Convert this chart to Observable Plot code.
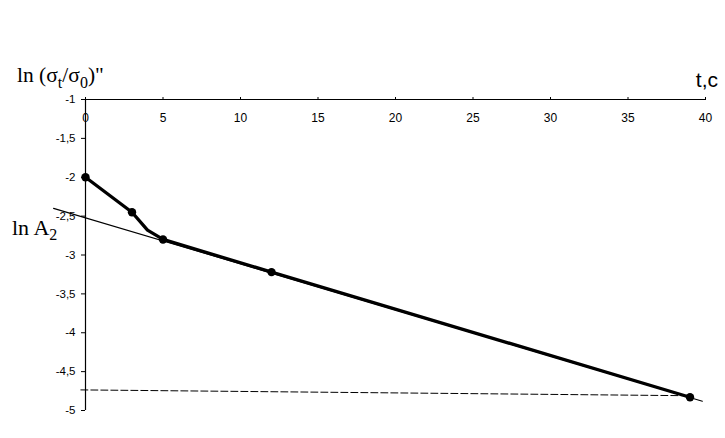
<!DOCTYPE html>
<html>
<head>
<meta charset="utf-8">
<script src="https://cdn.jsdelivr.net/npm/d3@7"></script>
<script src="https://cdn.jsdelivr.net/npm/@observablehq/plot@0.6"></script>
<style>
  html, body { margin: 0; padding: 0; background: #fff; }
</style>
</head>
<body>
<div id="chart"></div>
<script>
// Measured points (markers)
const tPoints = [0, 3, 5, 12, 39];
const lnPoints = [-2, -2.45, -2.8, -3.22, -4.83];
// Thick experimental curve (includes an unmarked vertex near t=4)
const tCurve = [0, 3, 4, 5, 12, 39];
const lnCurve = [-2, -2.45, -2.68, -2.8, -3.22, -4.83];
// Thin fitted straight line
const tFit = [-2.06, 39.8];
const lnFit = [-2.40, -4.88];
// Dashed line
const tBase = [-0.3, 39];
const lnBase = [-4.735, -4.81];
// Ticks
const xTicks = [0, 5, 10, 15, 20, 25, 30, 35, 40];
const yTicks = [-1, -1.5, -2, -2.5, -3, -3.5, -4, -4.5, -5];

const pts = tPoints.map((t, i) => ({t, v: lnPoints[i]}));
const curve = tCurve.map((t, i) => ({t, v: lnCurve[i]}));
const fit = tFit.map((t, i) => ({t, v: lnFit[i]}));
const base = tBase.map((t, i) => ({t, v: lnBase[i]}));

const fmt = d => String(d).replace(".", ",");

const chart = Plot.plot({
  width: 725,
  height: 438,
  marginLeft: 85,
  marginRight: 20,
  marginTop: 99,
  marginBottom: 28,
  style: {fontFamily: "'Liberation Sans', Arial, sans-serif", background: "#fff"},
  x: {domain: [0, 40]},
  y: {domain: [-5, -1]},
  marks: [
    Plot.axisY({ticks: yTicks, tickSize: 4, tickPadding: 6, tickFormat: fmt, fontSize: 11.5, stroke: "#000", color: "#000", label: null}),
    Plot.axisX({anchor: "top", ticks: xTicks, tickSize: 3, tickFormat: () => "", label: null}),
    Plot.text(xTicks, {x: d => d, y: -1, text: fmt, dy: 19, fontSize: 12, fill: "#000", lineAnchor: "middle", textAnchor: "middle", style: "letter-spacing:1px"}),
    Plot.ruleY([-1], {x1: 0, x2: 40, stroke: "#000", strokeWidth: 1.2}),
    Plot.ruleX([0], {y1: -1, y2: -5, stroke: "#000", strokeWidth: 1.2}),
    Plot.line(base, {x: "t", y: "v", stroke: "#000", strokeWidth: 1, strokeDasharray: "7,3"}),
    Plot.line(fit, {x: "t", y: "v", stroke: "#000", strokeWidth: 1.1}),
    Plot.line(curve, {x: "t", y: "v", stroke: "#000", strokeWidth: 3.3, strokeLinejoin: "round"}),
    Plot.dot(pts, {x: "t", y: "v", r: 4.2, fill: "#000", stroke: "none"})
  ]
});

const svg = d3.select(chart);
const serif = "'Liberation Serif', 'Times New Roman', serif";
// Y axis title
const t1 = svg.append("text").attr("x", 17).attr("y", 82).attr("text-anchor", "start")
  .attr("font-family", serif).attr("font-size", 21.5).attr("fill", "#000");
t1.append("tspan").text("ln (σ");
t1.append("tspan").attr("font-size", 16).attr("dy", 6).text("t");
t1.append("tspan").attr("dy", -6).text("/σ");
t1.append("tspan").attr("font-size", 16).attr("dy", 6).text("0");
t1.append("tspan").attr("dy", -6).text(")\"");
// X axis title
svg.append("text").attr("x", 718).attr("y", 87).attr("text-anchor", "end")
  .attr("font-family", "'Liberation Sans', Arial, sans-serif").attr("font-size", 21).attr("fill", "#000")
  .text("t,c");
// ln A2 label
const t3 = svg.append("text").attr("x", 12).attr("y", 235).attr("text-anchor", "start")
  .attr("font-family", serif).attr("font-size", 22).attr("fill", "#000");
t3.append("tspan").text("ln A");
t3.append("tspan").attr("font-size", 16).attr("dy", 5).text("2");

document.getElementById("chart").appendChild(chart);
</script>
</body>
</html>
